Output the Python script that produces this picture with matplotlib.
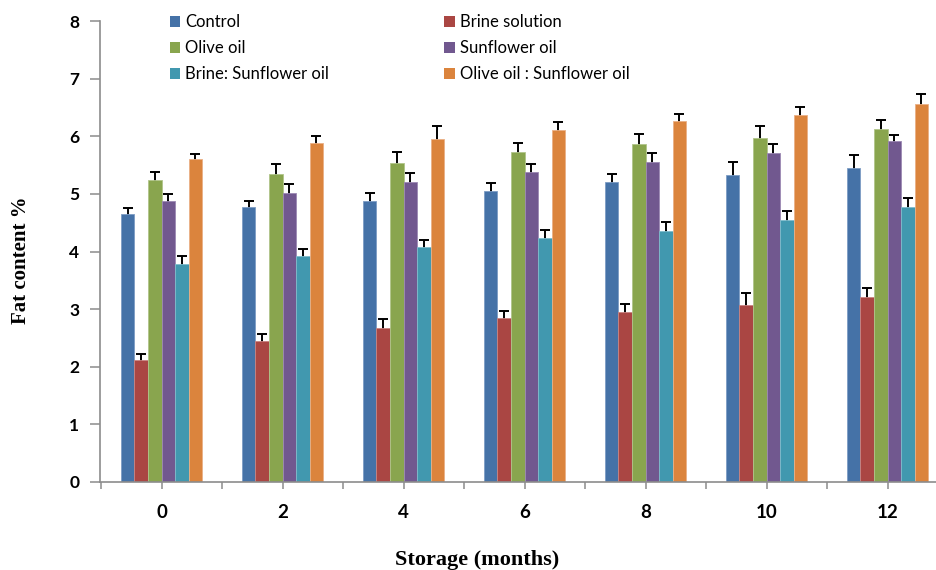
import matplotlib
matplotlib.use("Agg")
import matplotlib.pyplot as plt
import numpy as np
from matplotlib.patches import Patch

months = ["0", "2", "4", "6", "8", "10", "12"]
series_names = ["Control", "Brine solution", "Olive oil", "Sunflower oil",
                "Brine: Sunflower oil", "Olive oil : Sunflower oil"]

control      = [4.65, 4.77, 4.88, 5.05, 5.20, 5.32, 5.45]
brine        = [2.12, 2.45, 2.67, 2.84, 2.95, 3.07, 3.21]
olive        = [5.24, 5.34, 5.54, 5.72, 5.87, 5.97, 6.12]
sunflower    = [4.88, 5.02, 5.21, 5.38, 5.56, 5.71, 5.91]
brine_sun    = [3.78, 3.92, 4.08, 4.24, 4.36, 4.55, 4.77]
olive_sun    = [5.61, 5.88, 5.95, 6.10, 6.27, 6.37, 6.56]

control_err   = [0.11, 0.11, 0.13, 0.14, 0.15, 0.24, 0.22]
brine_err     = [0.10, 0.11, 0.15, 0.13, 0.14, 0.21, 0.16]
olive_err     = [0.14, 0.18, 0.19, 0.17, 0.17, 0.21, 0.16]
sunflower_err = [0.12, 0.15, 0.15, 0.13, 0.15, 0.15, 0.12]
brine_sun_err = [0.15, 0.13, 0.12, 0.14, 0.15, 0.16, 0.16]
olive_sun_err = [0.08, 0.12, 0.23, 0.15, 0.11, 0.13, 0.17]

values = [control, brine, olive, sunflower, brine_sun, olive_sun]
errors = [control_err, brine_err, olive_err, sunflower_err, brine_sun_err, olive_sun_err]
colors = ["#4572A7", "#AA4643", "#89A54E", "#71588F", "#4198AF", "#DB843D"]
edges  = ["#7d9cc4", "#c98482", "#b0c58a", "#9c89b3", "#7fbccc", "#eab086"]

fig = plt.figure(figsize=(9.37, 5.70), dpi=100)
ax = fig.add_axes([100/937, 88/570, 1 - 100/937, 461/570])

x = np.arange(len(months))
w = 0.1116
for j, (vals, errs) in enumerate(zip(values, errors)):
    pos = x + (j - 2.5) * w
    ax.bar(pos, vals, width=w, color=colors[j], edgecolor=edges[j], linewidth=0.6, zorder=3)
    # symmetric whiskers drawn behind the opaque bars: only the upper half shows
    ax.errorbar(pos, vals, yerr=errs, fmt="none",
                ecolor="black", elinewidth=1.4, capsize=3.6, capthick=1.4, zorder=2)

ax.set_yticks(range(0, 9))
ax.set_xticks(x)
ax.set_xticks(np.arange(-0.5, 7.0, 1.0), minor=True)
ax.set_xticklabels(months)
ax.set_xlim(-61.5/121, (937 - 161.5) / 121)
ax.set_ylim(0, 8)

for s in ["top", "right"]:
    ax.spines[s].set_visible(False)
for s in ["left", "bottom"]:
    ax.spines[s].set_color("#8c8c8c")
    ax.spines[s].set_linewidth(1.2)
    ax.spines[s].set_zorder(4)

ax.tick_params(axis="y", direction="out", length=7, width=1.1, color="#8c8c8c", pad=8)
ax.tick_params(axis="x", which="both", direction="out", length=5, width=1.1, color="#8c8c8c")
ax.tick_params(axis="x", which="major", pad=10.5)
for lab in ax.get_yticklabels():
    lab.set_fontfamily("Lato")
    lab.set_fontweight("bold")
    lab.set_fontsize(12.5)
for lab in ax.get_xticklabels():
    lab.set_fontfamily("Lato")
    lab.set_fontweight("bold")
    lab.set_fontsize(13.5)

fig.text(21/937, 1 - 260/570, "Fat content %", rotation=90, ha="center", va="center",
         fontfamily="Liberation Serif", fontweight="bold", fontsize=15)
fig.text(477/937, 1 - 560/570, "Storage (months)", ha="center", va="center",
         fontfamily="Liberation Serif", fontweight="bold", fontsize=16)

order = [0, 2, 4, 1, 3, 5]
handles = [Patch(facecolor=colors[i], edgecolor="none") for i in order]
labels = [series_names[i] for i in order]
leg = fig.legend(handles, labels, ncol=2, loc="upper left",
                 bbox_to_anchor=(170/937, 1 - 14/570), frameon=False,
                 prop={"family": "Lato", "size": 12},
                 handlelength=0.62, handleheight=0.62, handletextpad=0.3,
                 labelspacing=0.6, columnspacing=6.9, borderaxespad=0, borderpad=0)

fig.savefig("out.png", dpi=100)
